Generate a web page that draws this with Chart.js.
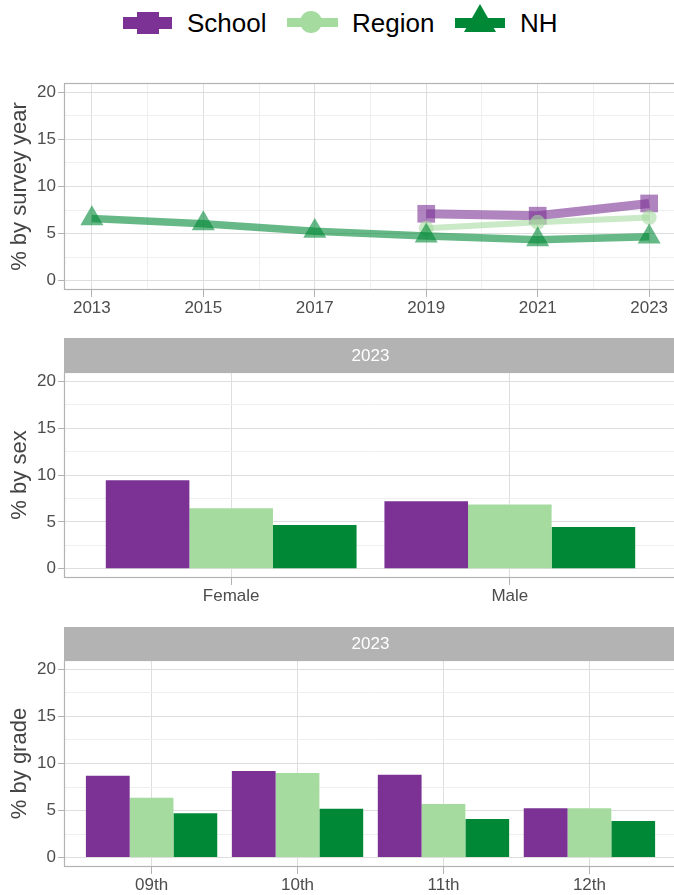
<!DOCTYPE html>
<html>
<head>
<meta charset="utf-8">
<script src="https://cdn.jsdelivr.net/npm/chart.js@4.4.0/dist/chart.umd.min.js"></script>
<style>
html, body { margin: 0; padding: 0; background: #fff; overflow: hidden; }
#wrap { position: relative; width: 674px; height: 895px; overflow: hidden; font-family: Arial, "Liberation Sans", sans-serif; }
canvas { position: absolute; left: 0; }
.lg { position: absolute; top: 0; height: 46px; line-height: 46px; font-size: 26px; color: #000; white-space: nowrap; }
.key { position: absolute; top: 0; }
</style>
</head>
<body>
<div id="wrap">
  <svg class="key" style="left:123px" width="50" height="46">
    <rect x="0" y="17" width="49" height="12" fill="#7B3294"/>
    <rect x="14" y="12" width="22" height="22" fill="#7B3294"/>
  </svg>
  <div class="lg" style="left:187px">School</div>
  <svg class="key" style="left:287px" width="52" height="46">
    <rect x="0" y="18" width="51" height="9" fill="#A6DBA0"/>
    <circle cx="24" cy="22" r="11" fill="#A6DBA0"/>
  </svg>
  <div class="lg" style="left:352px">Region</div>
  <svg class="key" style="left:455px" width="52" height="46">
    <rect x="0" y="18" width="50" height="10" fill="#008837"/>
    <polygon points="25,4 9,32 41,32" fill="#008837"/>
  </svg>
  <div class="lg" style="left:520px">NH</div>

  <canvas id="year-chart" width="680" height="280" style="top:45px"></canvas>
  <canvas id="sex-chart" width="680" height="285" style="top:325px"></canvas>
  <canvas id="grade-chart" width="680" height="285" style="top:610px"></canvas>
</div>

<script>
'use strict';

const years = [2013, 2015, 2017, 2019, 2021, 2023];
const schoolYear = [null, null, null, 7.1, 6.9, 8.2];
const regionYear = [null, null, null, 5.55, 6.2, 6.7];
const nhYear = [6.6, 6.05, 5.25, 4.75, 4.35, 4.65];

const sexLabels = ['Female', 'Male'];
const schoolSex = [9.45, 7.2];
const regionSex = [6.45, 6.85];
const nhSex = [4.65, 4.45];

const gradeLabels = ['09th', '10th', '11th', '12th'];
const schoolGrade = [8.7, 9.2, 8.8, 5.25];
const regionGrade = [6.35, 9.0, 5.7, 5.25];
const nhGrade = [4.7, 5.2, 4.1, 3.9];

const yTicks = [0, 2.5, 5, 7.5, 10, 12.5, 15, 17.5, 20];

const PURPLE = '#7B3294', LIGHT = '#A6DBA0', GREEN = '#008837';
const TXT = '#4D4D4D', MAJOR = '#DEDEDE', MINOR = '#EFEFEF', BOX = '#B3B3B3';

Chart.defaults.font.family = 'Arial, "Liberation Sans", sans-serif';
Chart.defaults.animation = false;

/////////////////////
//// plugins ////////

const panelBox = {
  id: 'panelBox',
  afterDatasetsDraw(chart) {
    const { ctx, chartArea: a } = chart;
    ctx.save();
    ctx.strokeStyle = BOX;
    ctx.lineWidth = 1.2;
    ctx.strokeRect(a.left + 0.5, a.top + 0.5, a.width - 1, a.height - 1);
    ctx.restore();
  }
};

const strip = {
  id: 'strip',
  beforeDraw(chart, args, opts) {
    if (!opts.height) return;
    const { ctx, chartArea: a } = chart;
    ctx.save();
    ctx.fillStyle = BOX;
    ctx.fillRect(a.left, a.top - opts.height, a.width, opts.height);
    ctx.fillStyle = '#fff';
    ctx.font = '17px Arial, "Liberation Sans", sans-serif';
    ctx.textAlign = 'center';
    ctx.textBaseline = 'middle';
    ctx.fillText(opts.text, (a.left + a.right) / 2, a.top - opts.height / 2 + 1);
    ctx.restore();
  }
};

const yAxis = function (title) {
  return {
    type: 'linear',
    min: -1,
    max: 21,
    afterBuildTicks: a => { a.ticks = yTicks.map(v => ({ value: v })); },
    afterFit: a => { a.width = 64; },
    ticks: {
      color: TXT, font: { size: 17 }, padding: 2,
      callback: v => (v % 5 === 0 ? String(v) : '')
    },
    grid: {
      color: c => (c.tick && c.tick.value % 5 === 0 ? MAJOR : MINOR),
      tickColor: c => (c.tick && c.tick.value % 5 === 0 ? BOX : 'rgba(0,0,0,0)'),
      tickLength: 6
    },
    border: { display: false },
    title: { display: true, text: title, color: '#444', font: { size: 22 }, padding: { top: 7, bottom: 0 } }
  };
};

const fitX = h => a => { a.height = h; a.paddingLeft = 0; a.paddingRight = 0; };

const baseOptions = function (padTop) {
  return {
    responsive: false,
    events: [],
    layout: { autoPadding: false, padding: { top: padTop, right: 3, left: 0, bottom: 0 } },
    plugins: { legend: { display: false }, tooltip: { enabled: false } }
  };
};

///////////////////////
/////  Line Chart /////

const toPoints = arr => years.map((yr, i) => ({ x: yr, y: arr[i] })).filter(p => p.y !== null);

const lineSet = function (label, arr, rgb, width, style, radius, order) {
  const col = 'rgba(' + rgb + ',0.6)';
  return {
    label: label,
    data: toPoints(arr),
    borderColor: col,
    borderWidth: width,
    borderJoinStyle: 'round',
    tension: 0,
    pointStyle: style,
    pointRadius: radius,
    pointBackgroundColor: col,
    pointBorderWidth: 0,
    order: order
  };
};

const yearTicks = [];
for (let yr = years[0]; yr <= years[years.length - 1]; yr++) yearTicks.push(yr);

const ctxl = document.getElementById('year-chart').getContext('2d');
const chartl = new Chart(ctxl, {
  type: 'line',
  data: {
    datasets: [
      lineSet('School', schoolYear, '123,50,148', 9, 'rect', 12.5, 2),
      lineSet('Region', regionYear, '166,219,160', 6, 'circle', 7.5, 1),
      lineSet('NH', nhYear, '0,136,55', 7.5, 'triangle', 13.3, 0)
    ]
  },
  options: Object.assign(baseOptions(38), {
    scales: {
      x: {
        type: 'linear',
        min: years[0] - 0.5,
        max: years[years.length - 1] + 0.5,
        afterBuildTicks: a => { a.ticks = yearTicks.map(v => ({ value: v })); },
        afterFit: fitX(35),
        ticks: {
          autoSkip: false, maxRotation: 0, color: TXT, font: { size: 17 }, padding: 1,
          callback: v => (years.includes(v) ? String(v) : '')
        },
        grid: {
          color: c => (c.tick && years.includes(c.tick.value) ? MAJOR : MINOR),
          tickColor: c => (c.tick && years.includes(c.tick.value) ? BOX : 'rgba(0,0,0,0)'),
          tickLength: 7
        },
        border: { display: false }
      },
      y: yAxis('% by survey year')
    }
  }),
  plugins: [panelBox]
});

///////////////////////
//// Bar charts ///////

const catAxis = function (labels, h) {
  return {
    type: 'linear',
    min: -0.6,
    max: labels.length - 0.4,
    offset: false,
    afterBuildTicks: a => { a.ticks = labels.map((l, i) => ({ value: i })); },
    afterFit: fitX(h),
    ticks: { autoSkip: false, maxRotation: 0, color: TXT, font: { size: 17 }, padding: 1, callback: v => labels[v] },
    grid: { offset: false, color: MAJOR, tickColor: BOX, tickLength: 7 },
    border: { display: false }
  };
};

const barSet = function (label, labels, arr, color) {
  return {
    label: label,
    data: labels.map((l, i) => ({ x: i, y: arr[i] })),
    backgroundColor: color,
    borderWidth: 0,
    categoryPercentage: 0.9,
    barPercentage: 1
  };
};

const ctxs = document.getElementById('sex-chart').getContext('2d');
const charts = new Chart(ctxs, {
  type: 'bar',
  data: {
    datasets: [
      barSet('School', sexLabels, schoolSex, PURPLE),
      barSet('Region', sexLabels, regionSex, LIGHT),
      barSet('NH', sexLabels, nhSex, GREEN)
    ]
  },
  options: Object.assign(baseOptions(47), {
    scales: { x: catAxis(sexLabels, 32), y: yAxis('% by sex') }
  }, { plugins: { legend: { display: false }, tooltip: { enabled: false }, strip: { height: 34, text: '2023' } } }),
  plugins: [strip, panelBox]
});

const ctxg = document.getElementById('grade-chart').getContext('2d');
const chartg = new Chart(ctxg, {
  type: 'bar',
  data: {
    datasets: [
      barSet('School', gradeLabels, schoolGrade, PURPLE),
      barSet('Region', gradeLabels, regionGrade, LIGHT),
      barSet('NH', gradeLabels, nhGrade, GREEN)
    ]
  },
  options: Object.assign(baseOptions(50), {
    scales: { x: catAxis(gradeLabels, 28), y: yAxis('% by grade') }
  }, { plugins: { legend: { display: false }, tooltip: { enabled: false }, strip: { height: 33, text: '2023' } } }),
  plugins: [strip, panelBox]
});
</script>
</body>
</html>
